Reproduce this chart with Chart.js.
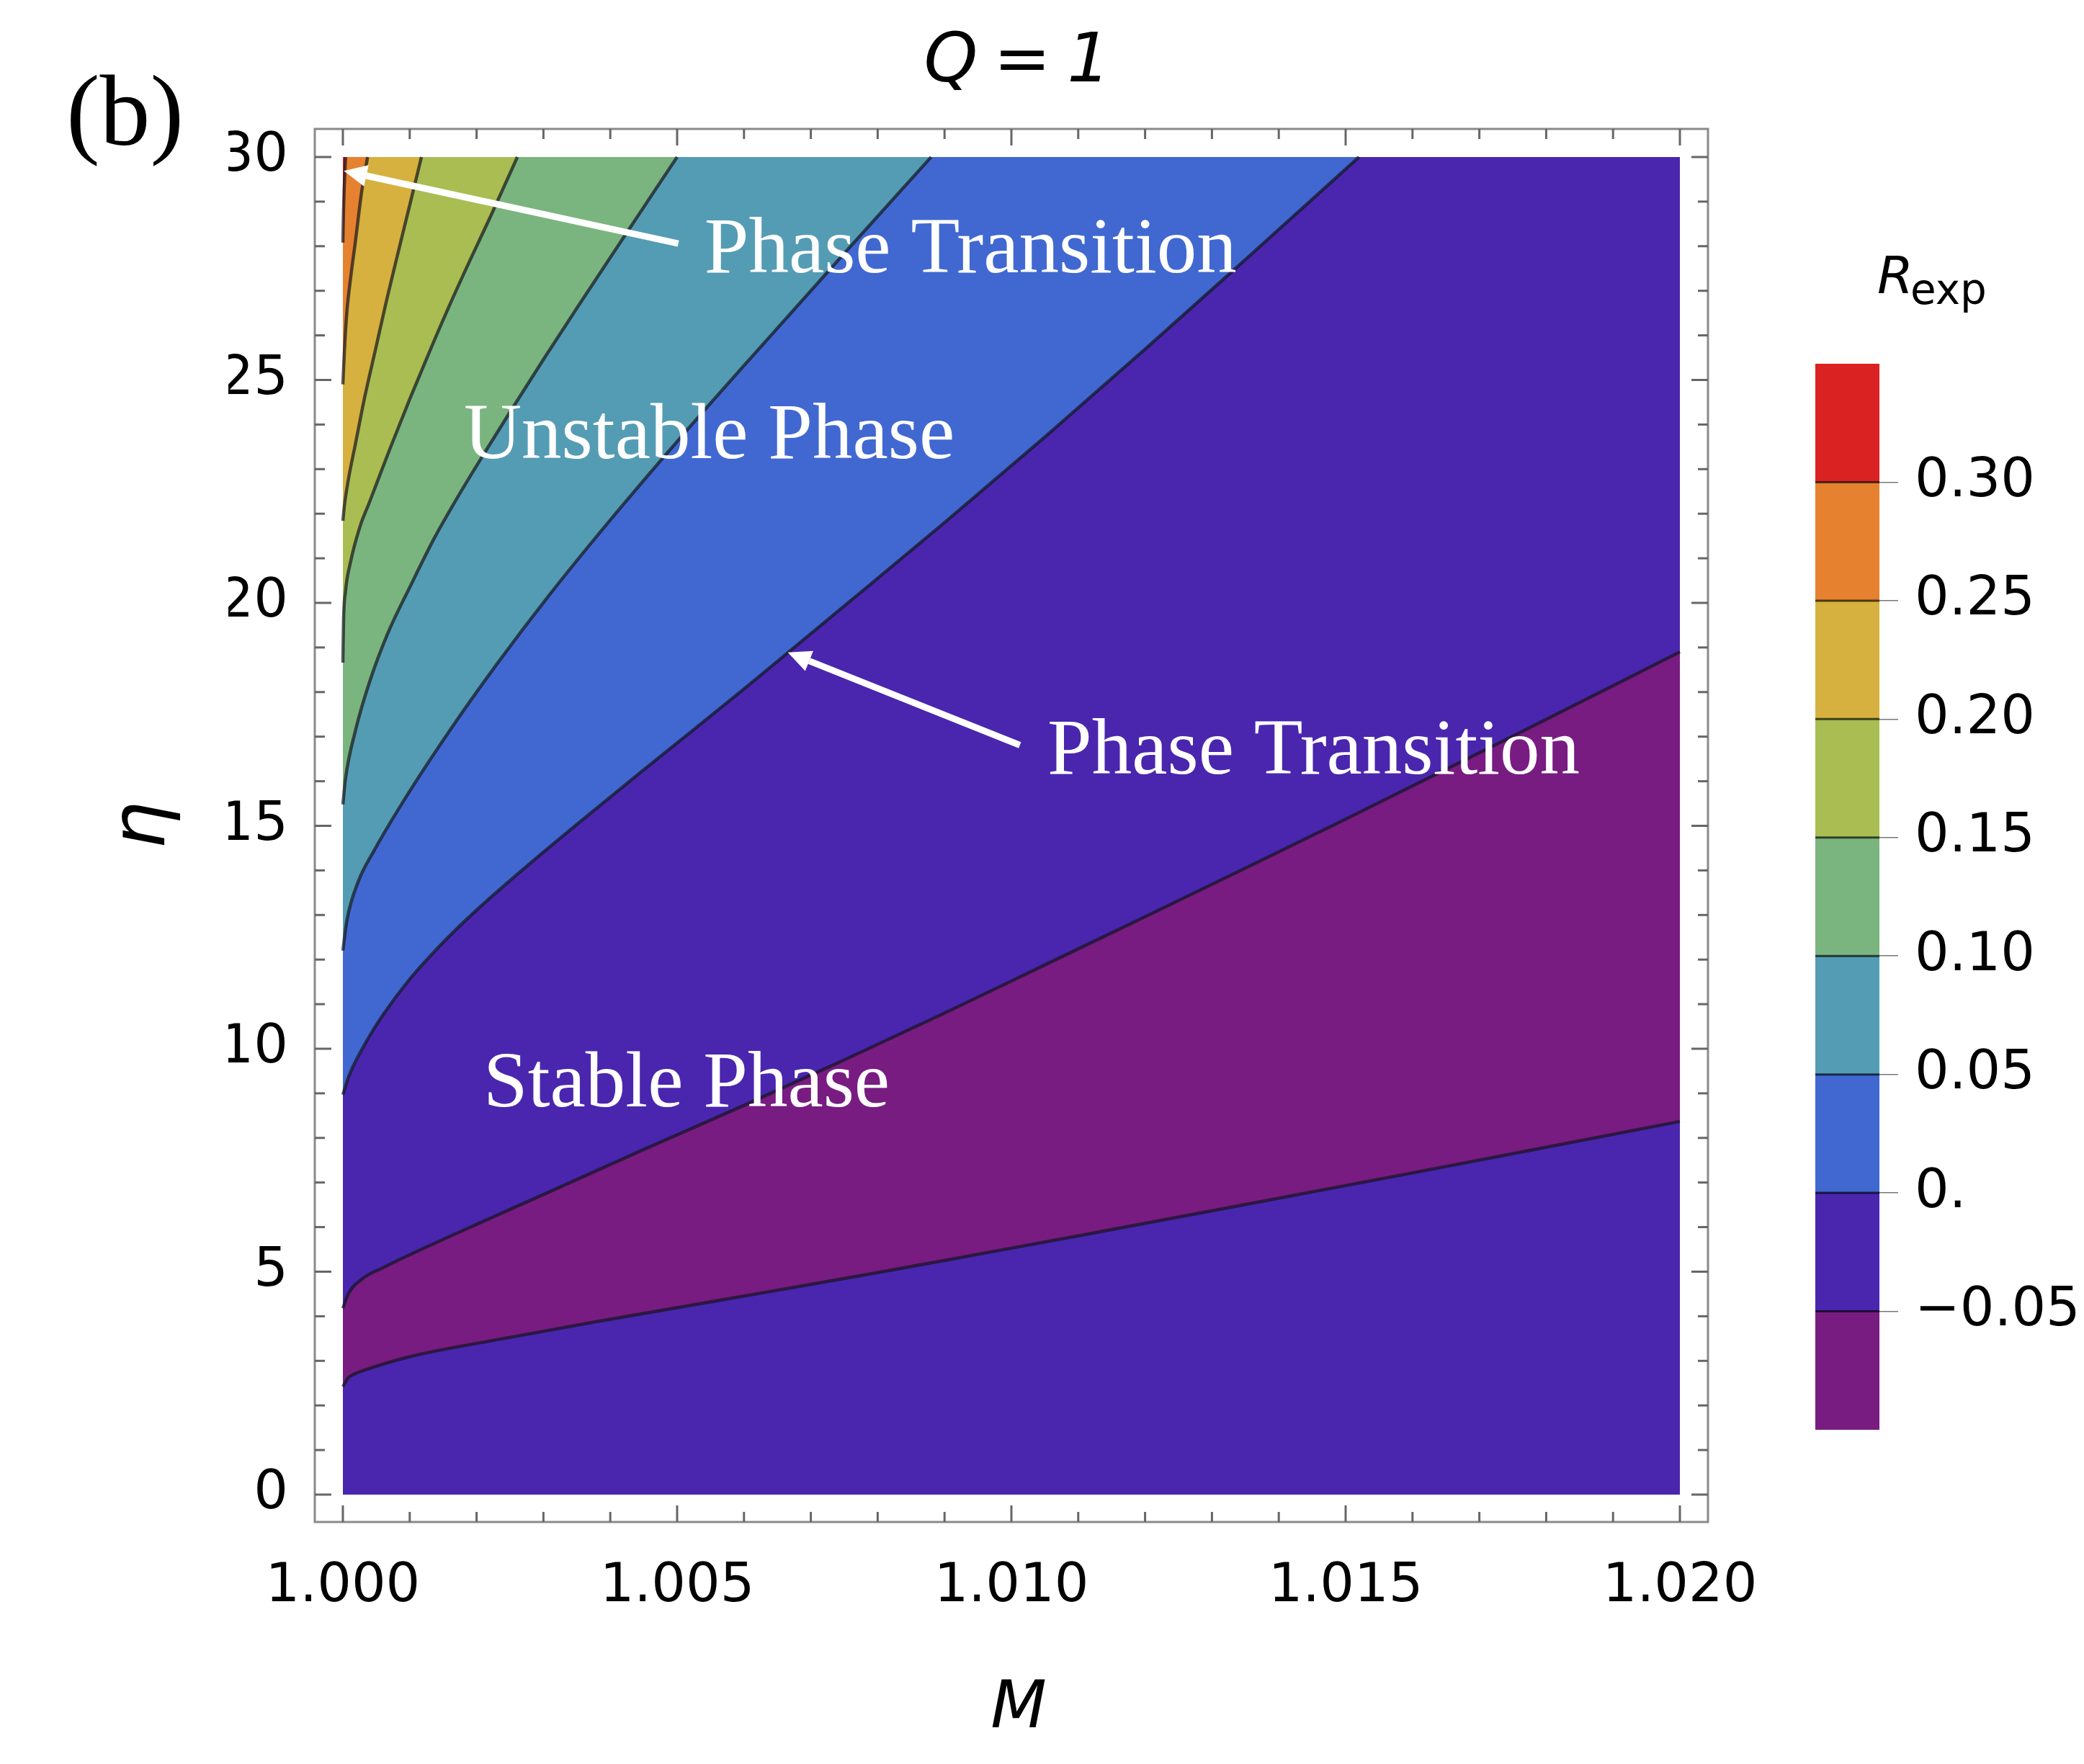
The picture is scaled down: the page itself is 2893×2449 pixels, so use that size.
<!DOCTYPE html>
<html>
<head>
<meta charset="utf-8">
<title>Q = 1 contour</title>
<script src="https://cdn.jsdelivr.net/npm/chart.js@4.4.1/dist/chart.umd.min.js"></script>
<style>
  html, body { margin: 0; padding: 0; background: #fff; }
  #wrap { position: relative; width: 2893px; height: 2449px; overflow: hidden; }
  #main { position: absolute; left: 0; top: 0; }
  #bar { position: absolute; left: 2460px; top: 405px; }
</style>
</head>
<body>
<div id="wrap">
  <canvas id="main" width="2893" height="2449"></canvas>
  <canvas id="bar" width="433" height="1680"></canvas>
</div>
<script>
// plot domain
const mMin = 1.0, mMax = 1.02, etaMax = 30;

// contour levels of R_exp and the colour of each band between two levels
const levels = [-0.1, -0.05, 0, 0.05, 0.1, 0.15, 0.2, 0.25, 0.3, 0.35];
const bandColors = ["#781c82", "#4a26ae", "#4168d1", "#549cb4", "#7ab57f",
                    "#a9bd53", "#d6b13f", "#e6812f", "#da2222"];

// contour lines: M values and eta values
// R = -0.05 (lower branch)
const mNegLow = [1.0, 1.00008, 1.00015, 1.0003, 1.00099, 1.0024, 1.0038, 1.0052, 1.0066, 1.008, 1.0095, 1.011, 1.0135, 1.016, 1.018, 1.02];
const etaNegLow = [2.42, 2.62, 2.69, 2.78, 3.09, 3.5, 3.88, 4.245, 4.61, 4.98, 5.39, 5.805, 6.505, 7.215, 7.79, 8.37];
// R = -0.05 (upper branch)
const mNegUp = [1.0, 1.00008, 1.0003, 1.0006, 1.001, 1.0017, 1.003, 1.0045, 1.006, 1.0075, 1.009, 1.0105, 1.012, 1.0135, 1.015, 1.0175, 1.02];
const etaNegUp = [4.18, 4.5, 4.85, 5.09, 5.38, 5.86, 6.73, 7.74, 8.73, 9.75, 10.8, 11.88, 12.96, 14.05, 15.15, 17.01, 18.9];
// R = 0
const mZero = [1.0, 1.00009, 1.00037, 1.0006, 1.001, 1.0015, 1.002, 1.003, 1.0045, 1.006, 1.0075, 1.009, 1.0105, 1.012, 1.0135, 1.0152];
const etaZero = [8.97, 9.39, 10.21, 10.76, 11.56, 12.385, 13.11, 14.41, 16.255, 18.07, 19.93, 21.8, 23.72, 25.69, 27.7, 30];
// R = 0.05
const m005 = [1.0, 1.00006, 1.00023, 1.00045, 1.0009, 1.0016, 1.0023, 1.0031, 1.004, 1.005, 1.0062, 1.0075, 1.0088];
const eta005 = [12.2, 12.88, 13.75, 14.4, 15.54, 17.14, 18.62, 20.2, 21.86, 23.62, 25.66, 27.84, 30];
// R = 0.10
const m010 = [1.0, 1.00004, 1.00019, 1.0004, 1.00067, 1.00101, 1.00137, 1.0017, 1.0021, 1.0025, 1.003, 1.0035, 1.0042, 1.005];
const eta010 = [15.48, 16.07, 17.15, 18.23, 19.31, 20.38, 21.46, 22.33, 23.32, 24.28, 25.46, 26.61, 28.2, 30];
// R = 0.15
const m015 = [1.0, 1.00001, 1.00004, 1.000115, 1.00026, 1.000385, 1.0007, 1.001, 1.0013, 1.0016, 1.0019, 1.0022, 1.00261];
const eta015 = [18.66, 19.6, 20.27, 20.92, 21.73, 22.21, 23.44, 24.57, 25.65, 26.69, 27.68, 28.64, 30];
// R = 0.20
const m020 = [1.0, 1.000025, 1.00008, 1.000187, 1.00033, 1.000492, 1.000654, 1.000833, 1.001013, 1.001175];
const eta020 = [21.84, 22.21, 22.75, 23.56, 24.64, 25.71, 26.79, 27.9, 29.0, 30];
// R = 0.25
const m025 = [1.0, 1.000025, 1.00006, 1.00012, 1.00019, 1.00028, 1.00037];
const eta025 = [24.9, 25.71, 26.52, 27.33, 28.13, 29.21, 30];
// R = 0.30
const m030 = [1.0, 1.00001, 1.00002, 1.00004];
const eta030 = [28.08, 28.8, 29.3, 30];

// tick labels
const xMajor = [1.0, 1.005, 1.01, 1.015, 1.02];
const yMajor = [0, 5, 10, 15, 20, 25, 30];

// text in the plot, placed in data units
const notes = [
  { text: "Phase Transition", m: 1.005406, eta: 27.42 },
  { text: "Unstable Phase", m: 1.00181, eta: 23.25 },
  { text: "Phase Transition", m: 1.010539, eta: 16.17 },
  { text: "Stable Phase", m: 1.002101, eta: 8.71 },
];
const arrows = [
  { from: [1.005018, 28.06], to: [1.000014, 29.69] },
  { from: [1.010127, 16.81], to: [1.006656, 18.89] },
];

Chart.defaults.font.family = "'DejaVu Sans', sans-serif";
Chart.defaults.color = "#000";

// lowest curve first: Chart.js paints the first dataset last
const contours = [
  { m: mNegLow, eta: etaNegLow, below: bandColors[1] },
  { m: mNegUp, eta: etaNegUp, below: bandColors[0] },
  { m: mZero, eta: etaZero, below: bandColors[1] },
  { m: m005, eta: eta005, below: bandColors[2] },
  { m: m010, eta: eta010, below: bandColors[3] },
  { m: m015, eta: eta015, below: bandColors[4] },
  { m: m020, eta: eta020, below: bandColors[5] },
  { m: m025, eta: eta025, below: bandColors[6] },
  { m: m030, eta: eta030, below: bandColors[7] },
];

const toPoints = (c) => c.m.map((m, i) => ({ x: m, y: c.eta[i] }));

// contour lines (drawn last, so listed first)
const lineSets = contours.map((c) => ({
  data: toPoints(c),
  borderColor: "rgba(20,20,30,0.7)",
  borderWidth: 4.5,
  fill: false,
  pointRadius: 0,
  cubicInterpolationMode: "monotone",
}));

// filled bands: area under each contour, closed along the top edge
const fillSets = contours.map((c) => {
  const pts = toPoints(c);
  if (c.eta[c.eta.length - 1] >= etaMax) pts.push({ x: mMax, y: etaMax });
  return {
    data: pts,
    borderWidth: 0,
    borderColor: "rgba(0,0,0,0)",
    backgroundColor: c.below,
    fill: { value: 0 },
    pointRadius: 0,
    tension: 0,
  };
});
// region above the highest contour
fillSets.push({
  data: [{ x: mMin, y: etaMax }, { x: mMax, y: etaMax }],
  borderWidth: 0,
  borderColor: "rgba(0,0,0,0)",
  backgroundColor: bandColors[8],
  fill: { value: 0 },
  pointRadius: 0,
});

const datasets = lineSets.concat(fillSets);

function drawArrow(ctx, x0, y0, x1, y1) {
  const ang = Math.atan2(y1 - y0, x1 - x0);
  const head = 32, half = 15;
  const bx = x1 - head * Math.cos(ang), by = y1 - head * Math.sin(ang);
  ctx.beginPath();
  ctx.moveTo(x0, y0);
  ctx.lineTo(bx, by);
  ctx.stroke();
  ctx.beginPath();
  ctx.moveTo(x1, y1);
  ctx.lineTo(bx + half * Math.sin(ang), by - half * Math.cos(ang));
  ctx.lineTo(bx - half * Math.sin(ang), by + half * Math.cos(ang));
  ctx.closePath();
  ctx.fill();
}

const decor = {
  id: "decor",
  afterDraw(chart) {
    const { ctx, chartArea: a } = chart;
    const x = chart.scales.x, y = chart.scales.y;
    ctx.save();

    // frame
    ctx.strokeStyle = "#8a8a8a";
    ctx.lineWidth = 3;
    ctx.strokeRect(a.left, a.top, a.right - a.left, a.bottom - a.top);

    // inward ticks on all four sides
    ctx.strokeStyle = "#666";
    ctx.lineWidth = 3;
    const seg = (x0, y0, x1, y1) => { ctx.beginPath(); ctx.moveTo(x0, y0); ctx.lineTo(x1, y1); ctx.stroke(); };
    x.ticks.forEach((t) => {
      const px = x.getPixelForValue(t.value);
      const len = t.label ? 23 : 14;
      seg(px, a.bottom, px, a.bottom - len);
      seg(px, a.top, px, a.top + len);
    });
    y.ticks.forEach((t) => {
      const py = y.getPixelForValue(t.value);
      const len = t.label ? 23 : 14;
      seg(a.left, py, a.left + len, py);
      seg(a.right, py, a.right - len, py);
    });

    // annotations
    ctx.fillStyle = "#fff";
    ctx.strokeStyle = "#fff";
    ctx.lineWidth = 9;
    arrows.forEach((r) => {
      drawArrow(ctx, x.getPixelForValue(r.from[0]), y.getPixelForValue(r.from[1]),
        x.getPixelForValue(r.to[0]), y.getPixelForValue(r.to[1]));
    });
    ctx.font = "111px 'Liberation Serif', serif";
    ctx.textAlign = "left";
    ctx.textBaseline = "alphabetic";
    notes.forEach((n) => ctx.fillText(n.text, x.getPixelForValue(n.m), y.getPixelForValue(n.eta)));

    // titles
    ctx.fillStyle = "#000";
    ctx.font = "140px 'Liberation Serif', serif";
    ctx.fillText("(b)", 92, 201);

    ctx.textAlign = "center";
    ctx.font = "italic 95px 'DejaVu Sans', sans-serif";
    ctx.wordSpacing = "-8px";
    ctx.fillText("Q = 1", 1412, 113);
    ctx.wordSpacing = "0px";

    ctx.font = "italic 90px 'DejaVu Sans', sans-serif";
    ctx.fillText("M", (a.left + a.right) / 2 + 10, 2398);

    ctx.save();
    ctx.translate(228, (a.top + a.bottom) / 2);
    ctx.rotate(-Math.PI / 2);
    ctx.font = "italic 105px 'DejaVu Sans', sans-serif";
    ctx.fillText("\u03b7", 0, 0);
    ctx.restore();

    ctx.textAlign = "left";
    ctx.font = "italic 72px 'DejaVu Sans', sans-serif";
    ctx.fillText("R", 2606, 407);
    ctx.font = "58px 'DejaVu Sans', sans-serif";
    ctx.fillText("exp", 2652, 422);

    ctx.restore();
  },
};

new Chart(document.getElementById("main"), {
  type: "line",
  data: { datasets },
  options: {
    responsive: false,
    animation: false,
    devicePixelRatio: 1,
    events: [],
    layout: { padding: { left: 317, top: 179, right: 522, bottom: 136 } },
    plugins: { legend: { display: false }, tooltip: { enabled: false } },
    scales: {
      x: {
        type: "linear",
        min: 0.99958,
        max: 1.02042,
        grid: { display: false },
        border: { display: false },
        ticks: {
          stepSize: 0.001,
          includeBounds: false,
          autoSkip: false,
          maxRotation: 0,
          padding: 38,
          font: { size: 75 },
          callback: (v) => (xMajor.some((t) => Math.abs(t - v) < 1e-7) ? v.toFixed(3) : ""),
        },
        afterFit: (s) => { s.height = 200; },
      },
      y: {
        type: "linear",
        min: -0.614,
        max: 30.63,
        grid: { display: false },
        border: { display: false },
        ticks: {
          stepSize: 1,
          includeBounds: false,
          autoSkip: false,
          padding: 29,
          font: { size: 75 },
          callback: (v) => (yMajor.includes(Math.round(v)) && Math.abs(v - Math.round(v)) < 1e-7 ? String(Math.round(v)) : ""),
        },
        afterFit: (s) => { s.width = 120; },
      },
    },
  },
  plugins: [decor],
});

// colour bar
const barLines = {
  id: "barLines",
  afterDatasetsDraw(chart) {
    const { ctx, chartArea: a } = chart;
    const y = chart.scales.y;
    ctx.save();
    ctx.strokeStyle = "rgba(0,0,0,0.65)";
    ctx.lineWidth = 3;
    levels.slice(1, -1).forEach((v) => {
      const py = y.getPixelForValue(v);
      ctx.beginPath();
      ctx.moveTo(a.left, py);
      ctx.lineTo(a.right, py);
      ctx.stroke();
    });
    ctx.restore();
  },
};

const inner = (v) => {
  const r = Math.round(v * 100) / 100;
  return r > levels[0] && r < levels[levels.length - 1];
};

new Chart(document.getElementById("bar"), {
  type: "bar",
  data: {
    labels: [""],
    datasets: bandColors.map((c, i) => ({
      data: [[levels[i], levels[i + 1]]],
      backgroundColor: c,
      borderWidth: 0,
      grouped: false,
      categoryPercentage: 1,
      barPercentage: 1,
    })),
  },
  options: {
    responsive: false,
    animation: false,
    devicePixelRatio: 1,
    events: [],
    layout: { padding: { left: 60, right: 0, top: 100, bottom: 100 } },
    plugins: { legend: { display: false }, tooltip: { enabled: false } },
    scales: {
      x: { display: false },
      y: {
        position: "right",
        min: levels[0],
        max: levels[levels.length - 1],
        border: { display: false },
        grid: {
          drawOnChartArea: false,
          drawTicks: true,
          tickLength: 26,
          lineWidth: 1.5,
          color: (c) => (c.tick && inner(c.tick.value) ? "#777" : "rgba(0,0,0,0)"),
        },
        ticks: {
          stepSize: 0.05,
          includeBounds: false,
          autoSkip: false,
          padding: 23,
          font: { size: 75 },
          callback: (v) => {
            if (!inner(v)) return "";
            const r = Math.round(v * 100) / 100;
            if (r === 0) return "0.";
            return r < 0 ? "\u2212" + Math.abs(r).toFixed(2) : r.toFixed(2);
          },
        },
        afterFit: (s) => { s.width = 284; },
      },
    },
  },
  plugins: [barLines],
});
</script>
</body>
</html>
